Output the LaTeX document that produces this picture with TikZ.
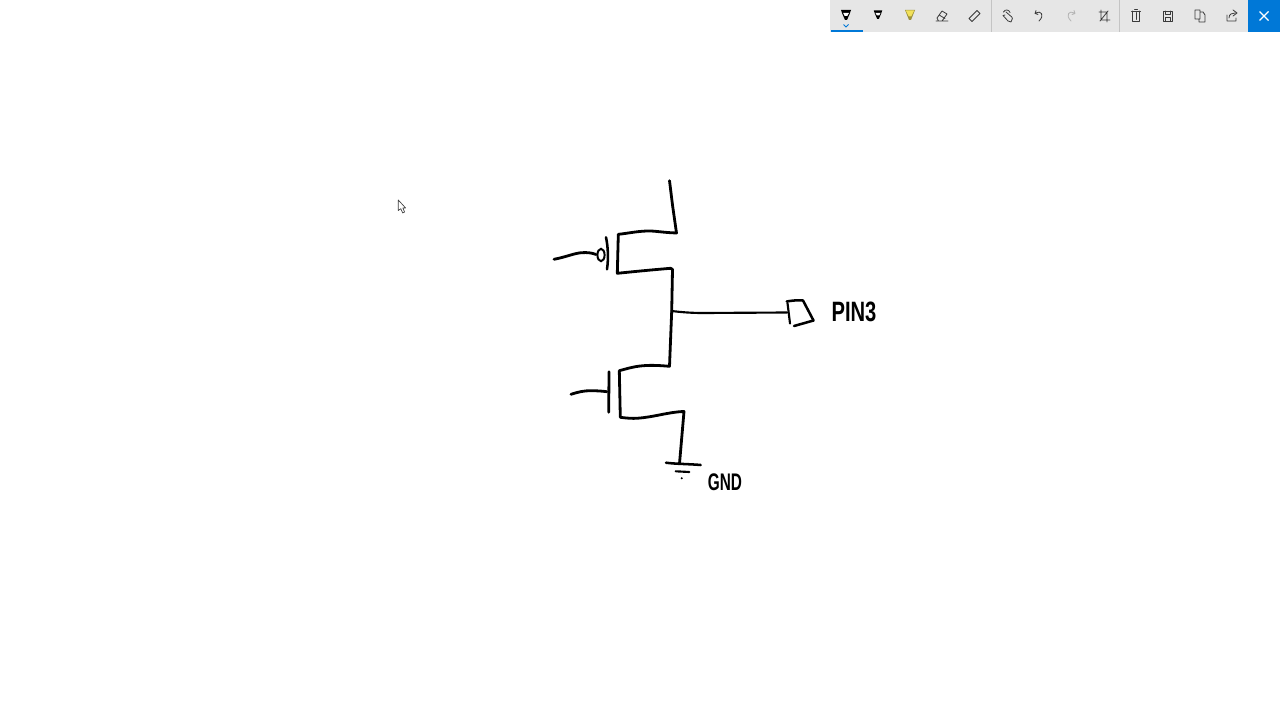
\documentclass[tikz,border=0pt]{standalone}
\usepackage{fontspec}
\setmainfont{Liberation Sans}
\definecolor{barbg}{HTML}{E6E6E6}
\definecolor{barsep}{HTML}{C4C4C4}
\definecolor{winblue}{HTML}{0078D7}
\definecolor{icon}{HTML}{3A3A3A}
\definecolor{icondis}{HTML}{B4B4B4}
\definecolor{hilite}{HTML}{F2E15A}
\tikzset{
  ink/.style={line width=2.1pt,line cap=round,line join=round,black},
  thinink/.style={line width=1.6pt,line cap=round,line join=round,black},
  hand/.style={inner sep=0pt,font=\bfseries\fontsize{21}{21}\selectfont,text=black},
  ico/.style={line width=0.6pt,icon,line join=round,line cap=round},
  pics/penicon/.style={code={
    \fill[#1] (-5,-6) -- (5,-6) -- (3.6,-2) -- (1,4) -- (-1,4) -- (-3.6,-2) -- cycle;
    \fill[white] (-3,-3.2) -- (3,-3.2) -- (1.3,0) -- (-1.3,0) -- cycle;
  }}
}
\begin{document}
\begin{tikzpicture}[x=0.75pt,y=-0.75pt]
\useasboundingbox (0,0) rectangle (1280,720);
\fill[white] (0,0) rectangle (1280,720);

% toolbar
\fill[barbg] (830,0) rectangle (1248,32);
\fill[winblue] (1248,0) rectangle (1280,32);
\fill[winblue] (831,30) rectangle (863,32);
\draw[barsep,line width=0.75pt] (991,0) -- (991,32);
\draw[barsep,line width=0.75pt] (1119,0) -- (1119,32);
\pic at (846,16) {penicon=black};
\draw[line width=0.6pt,winblue] (843.5,24.5) -- (846,27) -- (848.5,24.5);
\pic[scale=0.85] at (878,15.5) {penicon=black};
\fill[hilite!65!black] (905,10) -- (915,10) -- (911,20) -- (909,20) -- cycle;
\fill[hilite] (905.8,10.5) -- (914.2,10.5) -- (911.2,16.5) -- (908.8,16.5) -- cycle;
\draw[ico] (937,18) -- (942,11) -- (947,14) -- (942,21) -- (938.5,21) -- cycle (940,15.5) -- (945,18.5) (936,21) -- (948,21);
\draw[ico] (969,18.5) -- (977,10.5) -- (980,13.5) -- (972,21.5) -- cycle;
\draw[ico] (1003.5,12) .. controls (1005,9) and (1009,9.5) .. (1010,12.5) (1006,12) -- (1010,15.5) .. controls (1013,17) and (1013,20) .. (1011,22) -- (1008,21) -- (1003,15.5) -- (1005,15);
\draw[ico] (1036,10.5) -- (1035,13.5) -- (1038,14.5) (1035.5,13) .. controls (1041,10) and (1045,15) .. (1039,21);
\draw[ico,icondis] (1074,10.5) -- (1075,13.5) -- (1072,14.5) (1074.5,13) .. controls (1069,10) and (1065,15) .. (1071,21);
\draw[ico] (1099,12) -- (1107,12) (1101,10) -- (1101,20) -- (1110,20) (1107,12) -- (1107,22) (1100,21) -- (1108,11);
\draw[ico,line width=0.7pt] (1132.5,11) -- (1132.5,21) -- (1139.5,21) -- (1139.5,11) (1131.5,11) -- (1140.5,11) (1134.5,9.5) -- (1137.5,9.5) (1136,12.5) -- (1136,19.5);
\draw[ico] (1163,11) -- (1172,11) -- (1172,21) -- (1163,21) -- cycle (1165,11) -- (1165,14) -- (1170,14) -- (1170,11) (1165,21) -- (1165,17) -- (1170,17) -- (1170,21);
\draw[ico] (1195,10) -- (1200,10) -- (1200,19) -- (1195,19) -- cycle (1200,12) -- (1203,12) -- (1205,15) -- (1205,22) -- (1199,22) -- (1199,19);
\draw[ico] (1227,15) -- (1227,21) -- (1236,21) -- (1236,18) (1229,18) .. controls (1229,14) and (1232,13) .. (1235,13) (1233,10) -- (1237,13) -- (1233,16);
\draw[white,line width=0.9pt] (1259.5,11.5) -- (1268.5,20.5) (1268.5,11.5) -- (1259.5,20.5);

% mouse cursor
\draw[line width=0.5pt,fill=white,draw=black!75,line join=round] (398.3,200) -- (398.3,210.5) -- (400.8,208.7) -- (402.7,213) -- (404.6,212) -- (402.8,208) -- (405.6,208) -- cycle;

% named points of the circuit
\coordinate (vdd) at (669.5,180.7);
\coordinate (psource) at (676.5,233);
\coordinate (pdrain) at (672.5,269.5);
\coordinate (mid) at (671.7,311);
\coordinate (ndrain) at (669.5,366.3);
\coordinate (nsource) at (684,411.5);
\coordinate (gndtop) at (679.5,463.5);
\coordinate (pgate) at (554,259.3);
\coordinate (ngate) at (571,394.3);
\coordinate (bubble) at (601,255);
\coordinate (padin) at (787,312.5);

% PMOS
\draw[ink] (vdd) -- (672.5,205) -- (psource) .. controls (662,232.5) and (655,230.7) .. (646.7,231) .. controls (635,231.5) and (627,233.5) .. (618.3,234.3) -- (617.3,273.3) .. controls (630,272) and (650,270) .. (670.7,268.3) -- (pdrain) -- (mid);
\draw[ink,line width=1.9pt] (606,237.3) .. controls (608,247) and (608.6,258) .. (607,269.3);
\draw[line width=1.5pt,black] (bubble) ellipse [x radius=3.6,y radius=6.2];
\draw[ink] (pgate) .. controls (566,257) and (575,253) .. (581.7,252.7) .. controls (587,252.3) and (592,252.8) .. (596,254.5);

% output
\draw[thinink] (mid) .. controls (680,312) and (690,313) .. (703,313) -- (padin);
\draw[thinink,line width=1.9pt] (786.7,301.5) .. controls (792,300.5) and (798,300) .. (803,300.5) -- (813.5,320.5) -- (794,326);
\draw[thinink] (787.5,303) -- (790,323.5);

% NMOS
\draw[ink] (mid) -- (ndrain) .. controls (660,365.5) and (652,365) .. (643.3,365.7) .. controls (633,366.5) and (626,369) .. (619.3,370.7) -- (620.3,417.3) .. controls (628,418.3) and (632,418.5) .. (636.7,418.3) .. controls (655,417) and (668,412) .. (nsource) -- (gndtop);
\draw[ink] (609,371.7) -- (608.7,412.3);
\draw[ink] (ngate) .. controls (578,392) and (584,390.7) .. (590,390.7) .. controls (596,390.7) and (602,391) .. (606.7,391.7);

% ground
\draw[thinink,line width=1.9pt] (666,462.7) .. controls (675,464) and (690,464) .. (700.7,465);
\draw[thinink] (675.7,471.3) -- (689.3,472);
\fill[black] (681.7,478.3) circle (1.1);

% labels
\node[hand,xscale=0.72,anchor=center] (pinlabel) at (854,311.5) {PIN3};
\node[hand,font=\bfseries\fontsize{18}{18}\selectfont,xscale=0.64,anchor=center] (gndlabel) at (725,482) {GND};
\end{tikzpicture}
\end{document}
